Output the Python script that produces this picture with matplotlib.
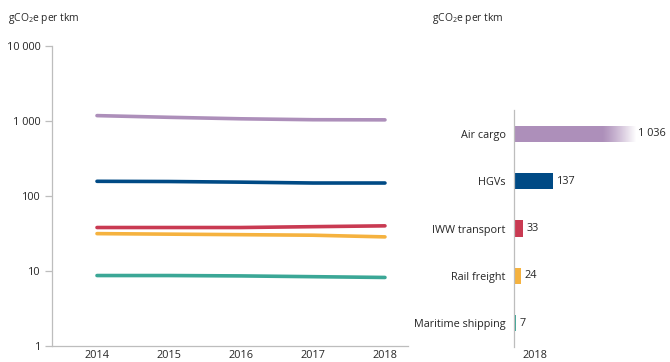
import numpy as np
import matplotlib
matplotlib.use("Agg")
import matplotlib.pyplot as plt
from matplotlib.ticker import FixedLocator, NullLocator

plt.rcParams['font.family'] = ['Open Sans', 'DejaVu Sans']
plt.rcParams['mathtext.fontset'] = 'custom'
plt.rcParams['mathtext.rm'] = 'Open Sans'
plt.rcParams['mathtext.it'] = 'Open Sans'

# ---- data ----
years = [2014, 2015, 2016, 2017, 2018]
air_cargo = [1180, 1120, 1070, 1040, 1036]
hgvs = [157, 156, 153, 149, 149]
iww = [38, 38, 38, 39, 40]
rail = [31.5, 31, 30.5, 30, 28.5]
maritime = [8.7, 8.7, 8.6, 8.4, 8.2]

bar_categories = ["Air cargo", "HGVs", "IWW transport", "Rail freight", "Maritime shipping"]
bar_values = [1036, 137, 33, 24, 7]
bar_labels = ["1 036", "137", "33", "24", "7"]
bar_year = "2018"

y_ticks = [1, 10, 100, 1000, 10000]
y_tick_labels = ["1", "10", "100", "1 000", "10 000"]
unit_label = "gCO$_2$e per tkm"

colors = ["#ad8fba", "#004a85", "#c93a52", "#f5b23f", "#3ba796"]
text_color = "#262626"
axis_color = "#bdbdbd"
fs = 7.8

W, H = 670, 362
fig = plt.figure(figsize=(W / 100, H / 100), dpi=100)

# ---- left line chart ----
ax = fig.add_axes([52 / W, 1 - 346 / H, 356 / W, 300 / H])
series = [air_cargo, hgvs, iww, rail, maritime]
for s, c in zip(series, colors):
    ax.plot(years, s, color=c, lw=2.6, solid_capstyle='round', zorder=3)
ax.set_yscale('log')
ax.set_ylim(1, 10000)
ax.set_xlim(2013.375, 2018.32)
ax.yaxis.set_major_locator(FixedLocator(y_ticks))
ax.yaxis.set_minor_locator(NullLocator())
ax.set_yticklabels(y_tick_labels)
ax.set_xticks(years)
ax.set_xticklabels([str(y) for y in years])
for sp in ['top', 'right']:
    ax.spines[sp].set_visible(False)
for sp in ['left', 'bottom']:
    ax.spines[sp].set_color(axis_color)
    ax.spines[sp].set_linewidth(0.9)
ax.tick_params(axis='y', length=5, color=axis_color, width=0.9, pad=3,
               labelsize=fs, labelcolor=text_color)
ax.tick_params(axis='x', length=0, pad=3, labelsize=fs, labelcolor=text_color)
fig.text(8 / W, 1 - 18 / H, unit_label, fontsize=7.4, color=text_color,
         ha='left', va='center')

# ---- right bar chart ----
axes_w_px = 122
bx = fig.add_axes([514 / W, 1 - 347 / H, axes_w_px / W, 237 / H])
ypos = np.arange(len(bar_categories))[::-1]
bar_h = 0.34
bx.barh(ypos, bar_values, height=bar_h, color=colors, zorder=2)
xmax = 428
# fade at the end of the truncated bar
grad = np.zeros((1, 256, 4))
grad[..., :3] = 1.0
grad[..., 3] = np.linspace(0, 1, 256) ** 1.2
fade_start = 310
bx.imshow(grad, extent=(fade_start, xmax, ypos[0] - bar_h / 2 - 0.02, ypos[0] + bar_h / 2 + 0.02),
          aspect='auto', zorder=3, interpolation='bilinear')
bx.set_xlim(0, xmax)
bx.set_ylim(-0.5, len(bar_categories) - 0.5)
for v, yp, lab in zip(bar_values, ypos, bar_labels):
    bx.annotate(lab, xy=(min(v, xmax), yp), xytext=(2.5 if v <= xmax else 1.5, 0),
                textcoords='offset points', ha='left', va='center', fontsize=fs,
                color=text_color, annotation_clip=False)
bx.set_yticks(ypos)
bx.set_yticklabels(bar_categories)
bx.set_xticks([])
for sp in ['top', 'right', 'bottom']:
    bx.spines[sp].set_visible(False)
bx.spines['left'].set_color(axis_color)
bx.spines['left'].set_linewidth(0.9)
bx.tick_params(axis='y', length=0, pad=6, labelsize=fs, labelcolor=text_color)
bx.text(21 / axes_w_px, -9 / 237, bar_year, transform=bx.transAxes, ha='center', va='center',
        fontsize=fs, color=text_color)
fig.text(432 / W, 1 - 18 / H, unit_label, fontsize=7.4, color=text_color,
         ha='left', va='center')

fig.savefig("out.png", dpi=100)
